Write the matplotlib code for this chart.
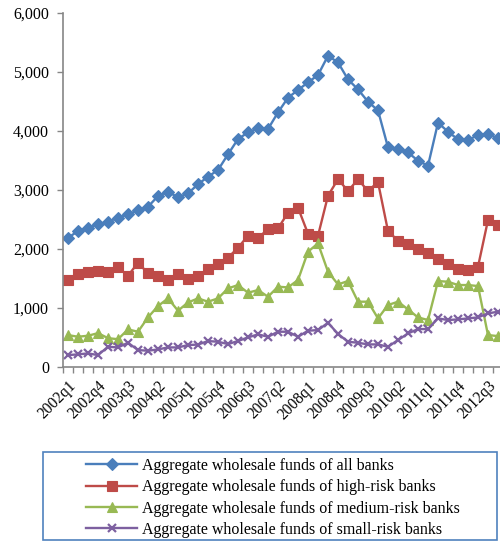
import numpy as np
import matplotlib
matplotlib.use("Agg")
import matplotlib.pyplot as plt
from matplotlib.patches import Rectangle
from matplotlib.ticker import FuncFormatter

plt.rcParams["font.family"] = ["Liberation Serif", "DejaVu Serif"]

# quarterly periods 2002q1 .. 2012q4
quarters = [f"{y}q{q}" for y in range(2002, 2013) for q in range(1, 5)]

all_banks = [2190, 2305, 2362, 2418, 2463, 2531, 2588, 2655, 2717, 2898,
             2972, 2876, 2943, 3098, 3226, 3339, 3605, 3864, 3977, 4045,
             4034, 4316, 4565, 4695, 4825, 4949, 5276, 5163, 4875, 4706,
             4497, 4350, 3723, 3689, 3638, 3497, 3412, 4141, 3989, 3859,
             3847, 3932, 3949, 3876]
high_risk = [1470, 1576, 1615, 1627, 1610, 1690, 1548, 1768, 1590, 1535,
             1475, 1580, 1490, 1548, 1661, 1740, 1853, 2022, 2226, 2192,
             2333, 2350, 2616, 2701, 2260, 2226, 2904, 3183, 2985, 3180,
             2985, 3135, 2305, 2141, 2079, 1994, 1938, 1825, 1740, 1655,
             1644, 1700, 2492, 2407]
medium_risk = [542, 514, 531, 575, 490, 472, 638, 599, 842, 1034,
               1164, 955, 1095, 1164, 1108, 1164, 1333, 1390, 1260, 1305,
               1192, 1362, 1350, 1475, 1955, 2096, 1616, 1401, 1458, 1108,
               1108, 825, 1051, 1108, 977, 842, 797, 1458, 1446, 1390,
               1390, 1373, 542, 525]
small_risk = [203, 215, 232, 203, 344, 333, 412, 288, 277, 299,
              333, 333, 373, 381, 441, 429, 390, 441, 503, 554,
              514, 599, 599, 514, 616, 627, 751, 562, 429, 412,
              384, 384, 344, 458, 570, 644, 644, 825, 797, 808,
              825, 842, 910, 938]

series = [
    ("Aggregate wholesale funds of all banks", all_banks, "#4A7EBB", "D", 6.0),
    ("Aggregate wholesale funds of high-risk banks", high_risk, "#BE4B48", "s", 7.0),
    ("Aggregate wholesale funds of medium-risk banks", medium_risk, "#98B954", "^", 7.5),
    ("Aggregate wholesale funds of small-risk banks", small_risk, "#7D60A0", "x", 6.0),
]

fig = plt.figure(figsize=(5.0, 5.43), dpi=100)
ax = fig.add_axes([0.126, 0.324, 0.88, 0.652])

x = np.arange(len(quarters))
handles = []
for label, vals, color, marker, ms in series:
    h, = ax.plot(x, vals, color=color, lw=1.7, marker=marker, ms=ms,
                 mec=color, mfc=color, mew=1.6 if marker == "x" else 0.8,
                 label=label)
    handles.append(h)

ax.set_xlim(-0.5, len(quarters) - 0.5)
ax.set_ylim(0, 6000)
ax.set_yticks(np.arange(0, 6001, 1000))
ax.yaxis.set_major_formatter(FuncFormatter(lambda v, p: f"{int(v):,}"))

# tick marks on category boundaries, labels on every third quarter
ax.set_xticks(np.arange(-0.5, len(quarters), 1.0))
ax.set_xticklabels([])
ax.set_xticks(x[::3], minor=True)
ax.set_xticklabels(quarters[::3], minor=True, rotation=45, ha="right",
                   rotation_mode="anchor", fontsize=11.2)
ax.tick_params(axis="x", which="major", length=4, width=1, color="#868686")
ax.tick_params(axis="x", which="minor", length=0, pad=8)
ax.tick_params(axis="y", length=4, width=1, color="#868686", labelsize=11.5, pad=6)

for side in ("top", "right"):
    ax.spines[side].set_visible(False)
for side in ("left", "bottom"):
    ax.spines[side].set_color("#868686")
    ax.spines[side].set_linewidth(1.2)

# legend box below the plot
fig.patches.append(Rectangle((0.086, 0.006), 0.908, 0.162, transform=fig.transFigure,
                             fill=False, edgecolor="#4F81BD", lw=1.2))
fig.legend(handles=handles, loc="center left", bbox_to_anchor=(0.172, 0.083),
           frameon=False, fontsize=11.5, handlelength=3.2, handletextpad=0.3,
           labelspacing=0.33, borderpad=0, borderaxespad=0)

fig.savefig("out.png", dpi=100)
